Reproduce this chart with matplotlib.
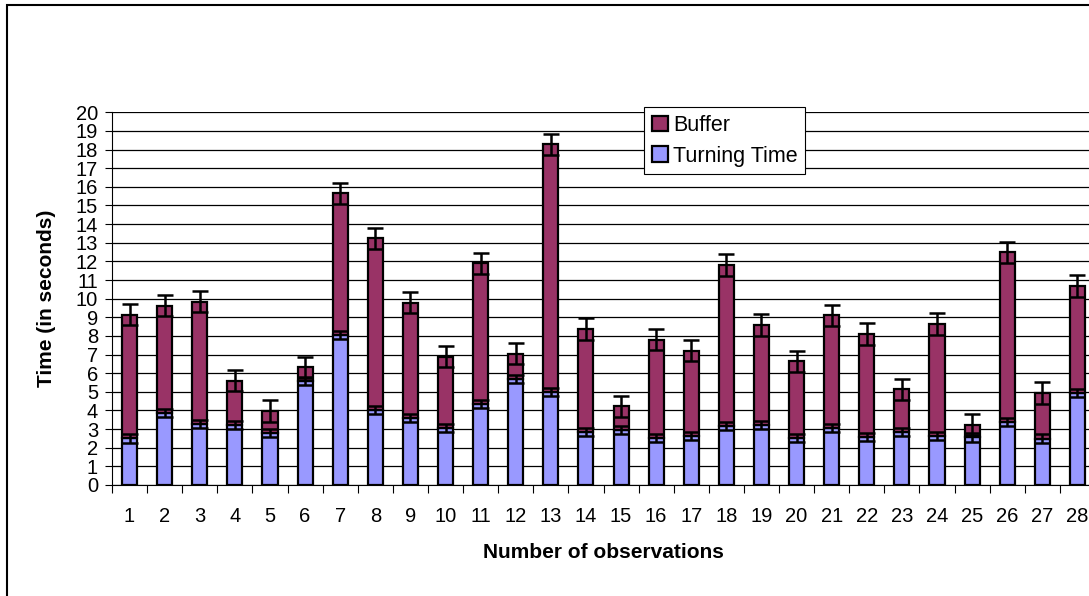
import numpy as np
import matplotlib
matplotlib.use("Agg")
import matplotlib.pyplot as plt
from matplotlib.patches import Rectangle

plt.rcParams['font.family'] = ['Liberation Sans', 'DejaVu Sans']

# observation numbers 1..28
observations = [str(i) for i in range(1, 29)]

# turning time (seconds), lower segment
turning = [2.50, 3.88, 3.27, 3.20, 2.80, 5.60, 8.05, 4.03, 3.58, 3.04,
           4.33, 5.70, 5.01, 2.86, 2.95, 2.52, 2.61, 3.15, 3.22, 2.52,
           3.06, 2.58, 2.84, 2.63, 2.55, 3.40, 2.49, 4.92]

# total time (turning + buffer), top of stacked bar
total = [9.13, 9.63, 9.84, 5.60, 3.97, 6.31, 15.66, 13.24, 9.79, 6.89,
         11.90, 7.04, 18.28, 8.37, 4.22, 7.79, 7.21, 11.80, 8.59, 6.63,
         9.11, 8.10, 5.13, 8.64, 3.24, 12.49, 4.94, 10.68]

turning_err = 0.22
buffer_err = 0.57

buffer = [t - b for t, b in zip(total, turning)]

W, H = 1089, 596
fig = plt.figure(figsize=(W / 100, H / 100), dpi=100)

# outer chart border (cut at right and bottom like the reference)
fig.patches.append(Rectangle((6.5 / W, -0.1), 1.2, (H - 4.5) / H + 0.1,
                             transform=fig.transFigure, fill=False,
                             edgecolor='black', linewidth=1.5))

left, right = 112 / W, 1095 / W
bottom, top = (H - 485) / H, (H - 112.3) / H
ax = fig.add_axes([left, bottom, right - left, top - bottom])

x = np.arange(len(observations))
bw = 0.43
ax.bar(x, turning, bw, color='#9999FF', edgecolor='black', linewidth=1.6,
       label='Turning Time', zorder=3)
ax.bar(x, buffer, bw, bottom=turning, color='#993366', edgecolor='black',
       linewidth=1.6, label='Buffer', zorder=3)
ax.errorbar(x, turning, yerr=turning_err, fmt='none', ecolor='black',
            elinewidth=1.8, capsize=6, capthick=1.8, zorder=4)
ax.errorbar(x, total, yerr=buffer_err, fmt='none', ecolor='black',
            elinewidth=1.8, capsize=6, capthick=1.8, zorder=4)

ax.set_xlim(-0.5, len(observations) - 0.5)
ax.set_ylim(0, 20)
ax.set_yticks(range(0, 21))
ax.yaxis.grid(True, color='black', linewidth=0.9, zorder=0)
ax.set_axisbelow(True)

ax.set_xticks(x)
ax.set_xticklabels(observations, fontsize=14.5)
ax.tick_params(axis='x', length=0, pad=16)
ax.set_xticks(np.arange(-0.5, len(observations), 1), minor=True)
ax.tick_params(axis='x', which='minor', length=6, width=0.8, direction='out')
ax.tick_params(axis='y', labelsize=14.5, length=5, width=0.8, pad=5)

for s in ['top', 'right']:
    ax.spines[s].set_visible(False)
ax.spines['left'].set_linewidth(0.8)
ax.spines['bottom'].set_linewidth(0.8)

ax.set_xlabel('Number of observations', fontsize=15, fontweight='bold',
              labelpad=12)
ax.set_ylabel('Time (in seconds)', fontsize=15, fontweight='bold',
              labelpad=14)

handles, labels = ax.get_legend_handles_labels()
leg = ax.legend(handles[::-1], labels[::-1], loc='upper left',
                bbox_to_anchor=((644 - 112) / (1095 - 112), 1.013),
                fontsize=15.5, frameon=True, fancybox=False, framealpha=1,
                edgecolor='black', handlelength=0.75, handleheight=0.75,
                handletextpad=0.25, borderpad=0.35, labelspacing=0.45,
                borderaxespad=0)
leg.get_frame().set_linewidth(0.8)

fig.savefig('out.png', dpi=100)
